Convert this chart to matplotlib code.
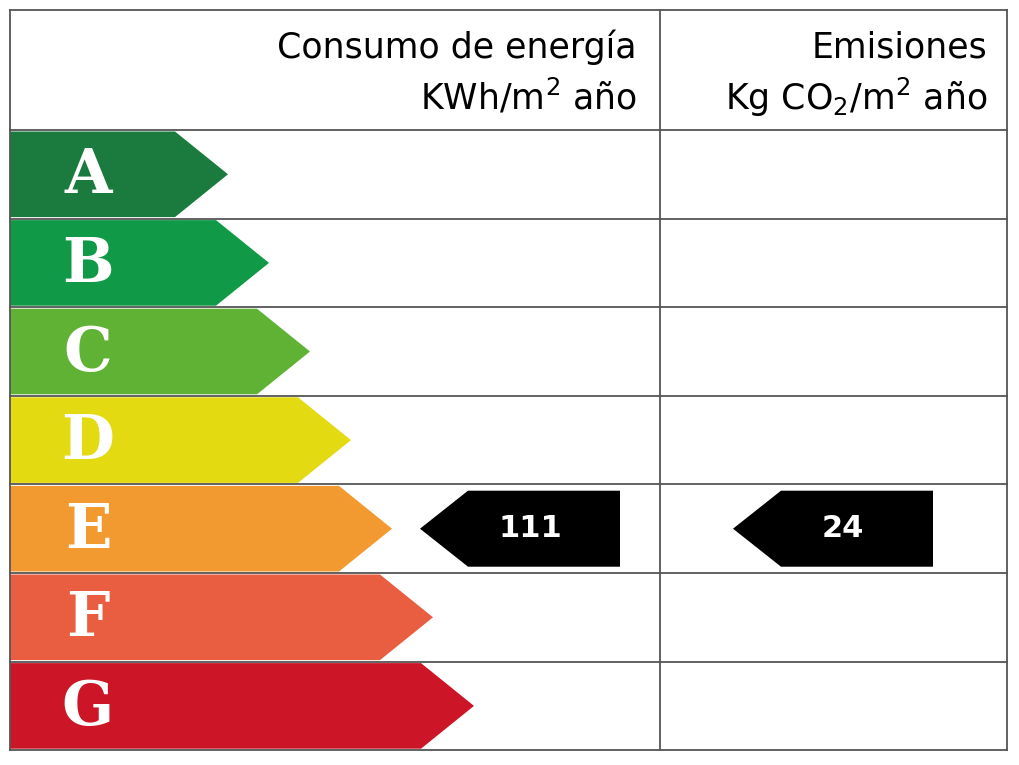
import matplotlib
matplotlib.use("Agg")
import matplotlib.pyplot as plt
from matplotlib.patches import Polygon

classes = ["A", "B", "C", "D", "E", "F", "G"]
colors = ["#1b7a3e", "#109a47", "#5fb234", "#e3da12", "#f29a30", "#e95e40", "#cc1526"]
energy_value = "111"
emission_value = "24"
rating = "E"

W, H = 1020, 765
fig = plt.figure(figsize=(W / 100, H / 100), dpi=100)
ax = fig.add_axes([0, 0, 1, 1])
ax.set_xlim(0, W)
ax.set_ylim(H, 0)
ax.axis("off")

left, right, mid = 10, 1007, 660
top, head = 10, 130
row_h = 88.6
bottom = head + row_h * len(classes)

# grid
lw = 1.3
for x in (left, mid, right):
    ax.plot([x, x], [top, bottom], color="#555555", lw=lw)
ax.plot([left, right], [top, top], color="#555555", lw=lw)
for i in range(len(classes) + 1):
    y = head + i * row_h
    ax.plot([left, right], [y, y], color="#555555", lw=lw)

# header
fs = 25
ax.text(637, 47, "Consumo de energía", ha="right", va="center", fontsize=fs)
ax.text(637, 97, "KWh/m$^2$ año", ha="right", va="center", fontsize=fs)
ax.text(987, 47, "Emisiones", ha="right", va="center", fontsize=fs)
ax.text(987, 97, "Kg CO$_2$/m$^2$ año", ha="right", va="center", fontsize=fs)

# class arrows
for i, (c, col) in enumerate(zip(classes, colors)):
    y0 = head + i * row_h + 1.5
    y1 = head + (i + 1) * row_h - 1.5
    body = 175 + 41 * i
    tip = body + 53
    ax.add_patch(Polygon([(left, y0), (body, y0), (tip, (y0 + y1) / 2),
                          (body, y1), (left, y1)], closed=True, color=col, lw=0))
    ax.text(88, (y0 + y1) / 2 + 2, c, ha="center", va="center", color="white",
            fontsize=44, family="DejaVu Serif", fontweight="bold")

# indicators
r = classes.index(rating)
cy = head + (r + 0.5) * row_h
for x0, val in ((420, energy_value), (733, emission_value)):
    pts = [(x0, cy), (x0 + 48, cy - 38), (x0 + 200, cy - 38),
           (x0 + 200, cy + 38), (x0 + 48, cy + 38)]
    ax.add_patch(Polygon(pts, closed=True, color="black", lw=0))
    ax.text(x0 + 110, cy, val, ha="center", va="center", color="white",
            fontsize=22, fontweight="bold")

fig.savefig("out.png", dpi=100, facecolor="white")
